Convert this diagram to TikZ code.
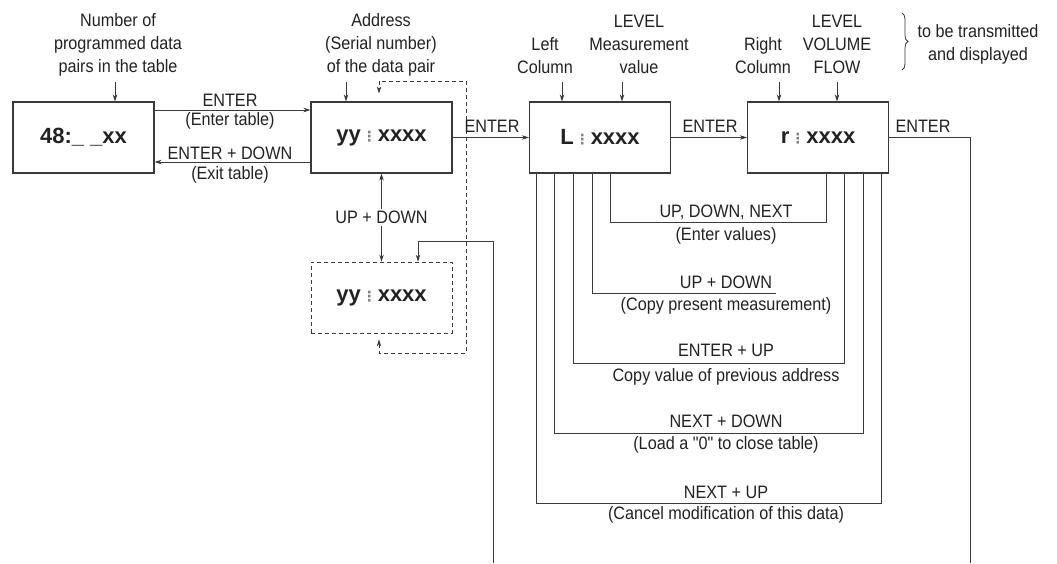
\documentclass[tikz,border=0pt]{standalone}
\usepackage{fontspec}
\setmainfont{Liberation Sans}[FakeStretch=0.9]
\newfontfamily\qf{Liberation Sans}[FakeStretch=0.9]
\newfontfamily\boxfont{Liberation Sans}
\newfontfamily\symfont{DejaVu Sans}
\usetikzlibrary{arrows.meta,calc,decorations.pathreplacing}
\definecolor{txt}{HTML}{222222}
\definecolor{lnc}{HTML}{3A3A3A}
\newcommand{\dotcol}{\kern1.5pt{\symfont\fontsize{14}{14}\selectfont\textcolor{black!50}{⋮}}\kern1.5pt}
\begin{document}
\begin{tikzpicture}[x=1pt,y=-1pt,
  lbl/.style={font=\fontsize{18}{23}\selectfont, align=center, text=txt, inner sep=0pt},
  box/.style={draw=lnc, line width=1.2pt, minimum width=141pt, minimum height=71pt, inner sep=0pt, text=txt,
    font=\boxfont\bfseries\fontsize{22}{26}\selectfont},
  arr/.style={-{Stealth[length=7pt,width=4.5pt]}, line width=0.8pt, draw=lnc},
  arrboth/.style={{Stealth[length=7pt,width=4.5pt]}-{Stealth[length=7pt,width=4.5pt]}, line width=0.8pt, draw=lnc},
  ln/.style={line width=0.8pt, draw=lnc},
  dsh/.style={dash pattern=on 4pt off 3pt}]
\fill[white] (0,0) rectangle (1057,563);
\useasboundingbox (0,0) rectangle (1057,563);

% boxes
\node[box] (b1) at (83.5,137.5) {48:\_ \_xx};
\node[box] (b2) at (381.5,137.5) {yy\dotcol xxxx};
\node[box,dsh,line width=0.8pt] (b3) at (381.5,297.5) {yy\dotcol xxxx};
\node[box] (bL) at (600,137.5) {L\dotcol xxxx};
\node[box] (bR) at (818,137.5) {r\dotcol xxxx};

% top labels
\node[lbl] (tN) at (118,44.5) {Number of\\programmed data\\pairs in the table};
\node[lbl] (tA) at (381,44.5) {Address\\(Serial number)\\of the data pair};
\node[lbl] (tLC) at (545,56) {Left\\Column};
\node[lbl] (tLM) at (639,44.5) {LEVEL\\Measurement\\value};
\node[lbl] (tRC) at (763,56) {Right\\Column};
\node[lbl] (tRV) at (837,44.5) {LEVEL\\VOLUME\\FLOW};
\node[lbl] (tT) at (978,44) {to be transmitted\\and displayed};
\draw[lnc, line width=0.8pt, decorate, decoration={brace, amplitude=6pt}] (902,13) -- (902,70);

\coordinate (aN) at (115,82);
\coordinate (aA) at (346,82);
\coordinate (aLC) at (562,82);
\coordinate (aLM) at (622,82);
\coordinate (aRC) at (779,82);
\coordinate (aRV) at (837,82);
\draw[arr] (aN) -- (aN |- b1.north);
\draw[arr] (aA) -- (aA |- b2.north);
\draw[arr] (aLC) -- (aLC |- bL.north);
\draw[arr] (aLM) -- (aLM |- bL.north);
\draw[arr] (aRC) -- (aRC |- bR.north);
\draw[arr] (aRV) -- (aRV |- bR.north);

% box1 <-> box2
\coordinate (y110) at (0,110);
\coordinate (y162) at (0,162);
\draw[arr] (b1.east |- y110) -- (b2.west |- y110);
\draw[arr] (b2.west |- y162) -- (b1.east |- y162);
\node[lbl] (l1) at (230,100) {ENTER};
\node[lbl] (l2) at (230,121) {(Enter table)};
\node[lbl] (l3) at (230,153) {ENTER + DOWN};
\node[lbl] (l4) at (230,175) {(Exit table)};

% dashed loop
\coordinate (xl) at (379,0);
\coordinate (dl1) at (466,81);
\coordinate (dl2) at (466,353);
\draw[arrboth, dsh, shorten <=6pt, shorten >=8pt] (b3.south -| xl) -- (xl |- dl2) -- (dl2) -- (dl1) -- (xl |- dl1) -- (b2.north -| xl);

% UP + DOWN
\draw[arrboth] (b2.south) -- (b3.north) node[lbl, midway, fill=white, inner sep=2pt] (ud) {UP + DOWN};

% long return line
\coordinate (fb) at (493,563);
\coordinate (c418) at (418,241);
\draw[arr] (fb) |- (c418) -- (c418 |- b3.north);

% ENTER chain
\draw[arr] (b2.east) -- (bL.west);
\draw[arr] (bL.east) -- (bR.west);
\coordinate (fr) at (970,563);
\draw[ln] (bR.east) -| (fr);
\node[lbl] (e1) at (492,126) {ENTER};
\node[lbl] (e2) at (710,126) {ENTER};
\node[lbl] (e3) at (923,126) {ENTER};

% nested loops
\draw[ln] ($(bL.south west)+(81.5,0)$) -- ++(0,49) -| ($(bR.south west)+(79.5,0)$);
\draw[ln] ($(bL.south west)+(63.5,0)$) -- ++(0,120) -- ++(184,0);
\draw[ln] ($(bL.south west)+(44.5,0)$) -- ++(0,190) -| ($(bR.south west)+(97.5,0)$);
\draw[ln] ($(bL.south west)+(25.5,0)$) -- ++(0,260) -| ($(bR.south west)+(116.5,0)$);
\draw[ln] ($(bL.south west)+(7.5,0)$) -- ++(0,330) -| ($(bR.south west)+(134.5,0)$);

\node[lbl] (n1a) at (726,212) {UP, DOWN, NEXT};
\node[lbl] (n1b) at (726,236) {(Enter values)};
\node[lbl] (n2a) at (726,282) {UP + DOWN};
\node[lbl] (n2b) at (726,306) {(Copy present measurement)};
\node[lbl] (n3a) at (726,350) {ENTER + UP};
\node[lbl] (n3b) at (726,377) {Copy value of previous address};
\node[lbl] (n4a) at (726,421) {NEXT + DOWN};
\node[lbl] (n4b) at (726,445) {(Load a {\qf "}0{\qf "} to close table)};
\node[lbl] (n5a) at (726,492) {NEXT + UP};
\node[lbl] (n5b) at (726,515) {(Cancel modification of this data)};
\end{tikzpicture}
\end{document}
